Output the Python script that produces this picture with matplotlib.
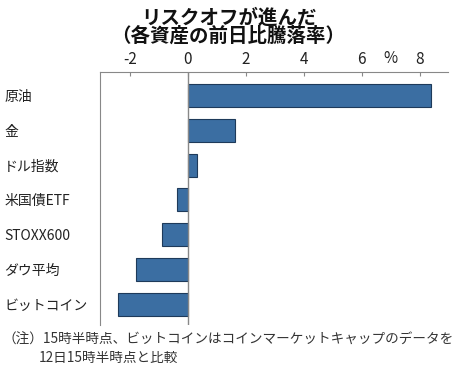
import matplotlib
matplotlib.use("Agg")
import matplotlib.pyplot as plt

plt.rcParams['font.family'] = ['Noto Sans CJK JP', 'DejaVu Sans']

categories = ["原油", "金", "ドル指数", "米国債ETF", "STOXX600", "ダウ平均", "ビットコイン"]
values = [8.37, 1.62, 0.30, -0.39, -0.89, -1.80, -2.41]
xticks = [-2, 0, 2, 4, 6, 8]

fig = plt.figure(figsize=(4.57, 3.71), dpi=100)
ax = fig.add_axes([0.2188, 0.124, 0.7615, 0.682])

ypos = list(range(len(categories)))
ax.barh(ypos, values, height=0.66, color="#3b6ea2", edgecolor="#1e3a5a", linewidth=0.8, zorder=2)
ax.axvline(0, color="#888888", linewidth=1.0, zorder=3)

ax.set_xlim(-3.03, 8.97)
ax.set_ylim(6.59, -0.67)

ax.xaxis.tick_top()
ax.set_xticks(xticks)
ax.set_xticklabels([str(t) for t in xticks], fontsize=11, color="#222222")
ax.tick_params(axis='x', direction='in', length=3, width=0.8, color="#888888", pad=3)
ax.set_yticks(ypos)
ax.set_yticklabels(categories, fontsize=10, color="#222222", ha='left')
ax.tick_params(axis='y', length=0, pad=69)

for s in ["right", "bottom"]:
    ax.spines[s].set_visible(False)
ax.spines["top"].set_color("#888888")
ax.spines["left"].set_color("#888888")

ax.text(7.0, 1.02, "%", transform=ax.get_xaxis_transform(), fontsize=11,
        ha='center', va='bottom', color="#222222")

fig.text(0.5, 0.951, "リスクオフが進んだ", fontsize=14, fontweight='bold',
         ha='center', va='center', color="#111111")
fig.text(0.5, 0.903, "（各資産の前日比騰落率）", fontsize=14, fontweight='bold',
         ha='center', va='center', color="#111111")

fig.text(0.005, 0.085, "（注）15時半時点、ビットコインはコインマーケットキャップのデータを",
         fontsize=9.8, ha='left', va='center', color="#333333")
fig.text(0.085, 0.035, "12日15時半時点と比較",
         fontsize=9.8, ha='left', va='center', color="#333333")

fig.savefig("out.png", dpi=100)
